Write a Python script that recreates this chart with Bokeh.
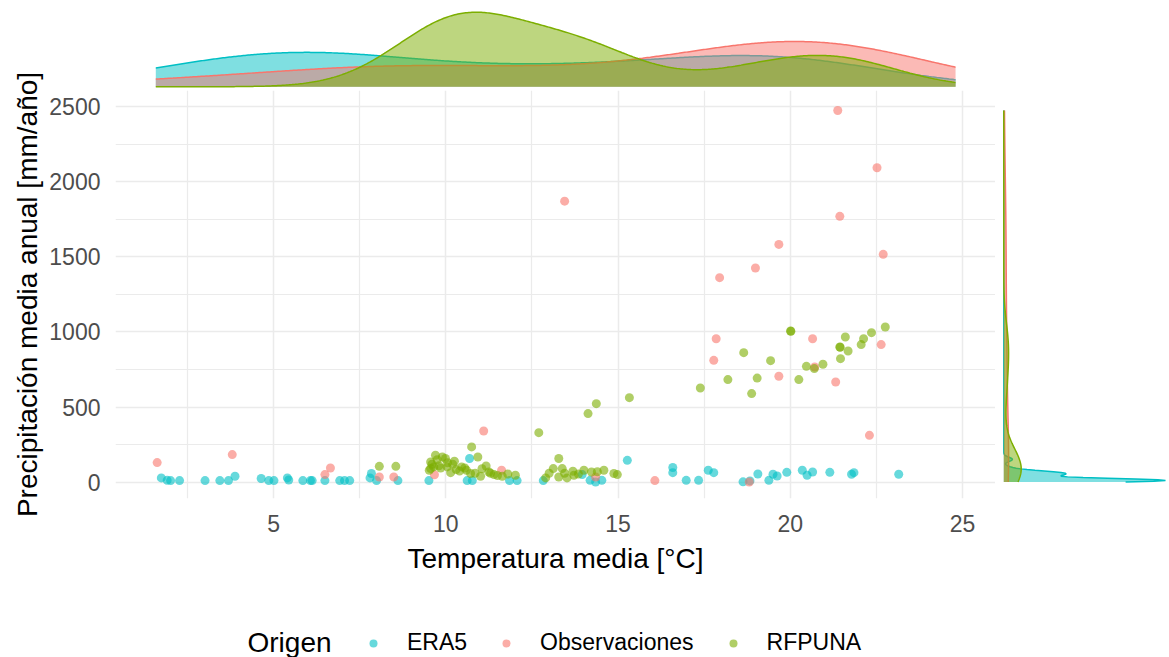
import numpy as np
from bokeh.plotting import figure
from bokeh.layouts import column, row
from bokeh.models import Range1d, FixedTicker, Legend, LegendItem, Label
from bokeh.embed import file_html
from bokeh.resources import INLINE

# Temperatura media anual [°C] y precipitación media anual [mm/año] por estación y origen
era5_temp = [1.74, 1.91, 2.01, 2.27, 3.01, 3.44, 3.69, 3.88, 4.64, 4.86, 5.01, 5.40, 5.44,
             5.85, 6.07, 6.12, 6.49, 6.92, 7.06, 7.21, 7.80, 7.84, 7.99, 8.61, 9.51, 10.69,
             10.62, 10.77, 11.85, 12.07, 12.83, 13.96, 14.19, 14.35, 14.53, 15.27, 16.59,
             16.59, 16.98, 17.34, 17.62, 17.78, 18.63, 18.83, 19.06, 19.38, 19.50, 19.62,
             19.90, 20.35, 20.49, 20.65, 21.15, 21.78, 21.85, 23.15]
era5_precip = [29, 13, 11, 11, 11, 11, 11, 40, 25, 11, 11, 29, 15,
               11, 11, 11, 11, 11, 11, 11, 29, 58, 11, 11, 11, 158,
               11, 11, 11, 11, 11, 51, 13, 2, 13, 146, 98,
               64, 13, 13, 80, 64, 3, 9, 55, 13, 53, 42,
               66, 80, 47, 68, 66, 53, 64, 53]

obs_temp = [1.62, 3.80, 6.49, 6.65, 8.07, 8.49, 9.67, 11.10, 11.62, 13.45, 14.35, 16.07,
            18.81, 17.95, 17.85, 17.78, 18.99, 19.67, 19.67, 20.71, 20.65, 21.32, 21.38,
            21.44, 22.30, 22.52, 22.64, 22.70]
obs_precip = [131, 184, 51, 95, 35, 35, 50, 341, 80, 1870, 35, 11,
              2, 1361, 955, 811, 1425, 1582, 705, 767, 955, 667, 2473,
              1769, 312, 2092, 916, 1516]

rfpuna_temp = [8.07, 8.55, 9.52, 9.56, 9.70, 9.65, 9.90, 9.99, 9.56, 10.04, 10.14, 10.46,
               10.75, 10.93, 10.72, 11.01, 11.17, 11.25, 11.40, 11.64, 12.02, 12.70, 12.90,
               13.12, 13.28, 13.38, 13.28, 13.52, 13.69, 13.72, 14.01, 14.23, 14.59, 14.88,
               14.98, 14.13, 14.37, 15.33, 17.39, 18.19, 18.88, 19.04, 18.65, 19.43, 20.01,
               20.02, 20.25, 20.47, 20.70, 20.95, 21.44, 21.45, 21.46, 21.60, 21.68, 22.06,
               22.13, 22.36, 22.76, 10.20, 10.30, 9.80, 10.60,
               9.60, 9.75, 9.85, 10.05, 10.25, 10.40, 10.55, 10.85, 11.05, 11.30, 11.50,
               11.80, 13.00, 13.45, 13.85, 14.40]
rfpuna_precip = [106, 106, 80, 135, 180, 102, 168, 158, 91, 102, 64, 102,
                 235, 168, 58, 40, 108, 68, 51, 40, 47, 330, 29,
                 91, 158, 91, 35, 29, 73, 47, 80, 68, 80, 58,
                 51, 457, 523, 563, 627, 683, 590, 693, 862, 809, 1006,
                 1004, 683, 771, 756, 785, 900, 898, 822, 966, 873, 916,
                 955, 995, 1033, 120, 85, 110, 80,
                 120, 150, 95, 130, 140, 75, 95, 60, 90, 60, 45,
                 55, 60, 60, 55, 70]

sources = ["ERA5", "Observaciones", "RFPUNA"]
temps = [era5_temp, obs_temp, rfpuna_temp]
precips = [era5_precip, obs_precip, rfpuna_precip]
colors = ["#00BFC4", "#F8766D", "#7CAE00"]

x_ticks = [5, 10, 15, 20, 25]
x_minor = [2.5, 7.5, 12.5, 17.5, 22.5]
y_ticks = [0, 500, 1000, 1500, 2000, 2500]
y_minor = [250, 750, 1250, 1750, 2250]

# extent of the temperature scale used for the marginal densities
temp_limits = (1.58, 24.8)

FONT = "Liberation Sans"
PAGE_W, PAGE_H = 1169, 657
TITLE_W = 45      # strip holding the rotated y-axis title
LEFT = 70         # room for the y tick labels
RIGHT_W = 174     # right marginal panel
TOP_H = 90
MAIN_H = 490
LEG_H = PAGE_H - TOP_H - MAIN_H


def bw_nrd0(v):
    v = np.asarray(v, dtype=float)
    sd = v.std(ddof=1)
    q75, q25 = np.percentile(v, [75, 25])
    lo = min(sd, (q75 - q25) / 1.34)
    if lo <= 0:
        lo = sd
    return 0.9 * lo * len(v) ** -0.2


def kde(v, grid):
    v = np.asarray(v, dtype=float)
    bw = bw_nrd0(v)
    z = (grid[:, None] - v[None, :]) / bw
    return np.exp(-0.5 * z ** 2).sum(axis=1) / (len(v) * bw * np.sqrt(2 * np.pi))


def bare(**kw):
    f = figure(x_axis_location=None, y_axis_location=None, toolbar_location=None,
               output_backend="svg", **kw)
    f.outline_line_color = None
    f.grid.visible = False
    return f


x_range = Range1d(0.41, 25.96)
y_range = Range1d(-108, 2606)

# ---- main scatter ----
p = figure(width=PAGE_W - TITLE_W - RIGHT_W, height=MAIN_H, x_range=x_range, y_range=y_range,
           toolbar_location=None, output_backend="svg",
           min_border_left=LEFT, min_border_right=0, min_border_top=0, min_border_bottom=82,
           x_axis_label="Temperatura media [°C]")
p.outline_line_color = None
p.background_fill_color = "white"

for name, tx, py, col in zip(sources, temps, precips, colors):
    p.scatter(tx, py, size=9, fill_color=col, fill_alpha=0.6, line_color=None)

p.xaxis.ticker = FixedTicker(ticks=x_ticks)
p.yaxis.ticker = FixedTicker(ticks=y_ticks)
p.xgrid.ticker = FixedTicker(ticks=x_ticks, minor_ticks=x_minor)
p.ygrid.ticker = FixedTicker(ticks=y_ticks, minor_ticks=y_minor)
for g in (p.xgrid, p.ygrid):
    g.grid_line_color = "#EBEBEB"
    g.grid_line_width = 1.5
    g.minor_grid_line_color = "#EBEBEB"
    g.minor_grid_line_width = 1.2

for ax in (p.xaxis, p.yaxis):
    ax.axis_line_color = None
    ax.major_tick_line_color = None
    ax.minor_tick_line_color = None
    ax.major_label_text_font = FONT
    ax.major_label_text_font_size = "23px"
    ax.major_label_text_color = "#4D4D4D"
    ax.axis_label_text_font = FONT
    ax.axis_label_text_font_size = "28px"
    ax.axis_label_text_font_style = "normal"
    ax.axis_label_text_color = "black"
p.xaxis.major_label_standoff = 10
p.xaxis.axis_label_standoff = 8
p.yaxis.major_label_standoff = 9

# ---- top marginal: temperature densities ----
xg = np.linspace(temp_limits[0], temp_limits[1], 512)
dens_x = [kde(t, xg) for t in temps]
mx = max(d.max() for d in dens_x)
top = bare(width=PAGE_W - TITLE_W, height=TOP_H, x_range=x_range,
           y_range=Range1d(-0.05 * mx, 1.05 * mx),
           min_border_left=LEFT, min_border_right=RIGHT_W, min_border_top=8, min_border_bottom=0)
for d, col in zip(dens_x, colors):
    top.varea(x=xg, y1=np.zeros_like(d), y2=d, fill_color=col, fill_alpha=0.5)
    top.line(xg, d, line_color=col, line_width=1.5)

# ---- right marginal: precipitation densities ----
all_p = np.concatenate([np.asarray(v, dtype=float) for v in precips])
yg = np.linspace(all_p.min(), all_p.max(), 512)
dens_y = [kde(v, yg) for v in precips]
my = max(d.max() for d in dens_y)
right = bare(width=RIGHT_W, height=MAIN_H, x_range=Range1d(-0.0513 * my, 1.0247 * my),
             y_range=y_range,
             min_border_left=0, min_border_right=0, min_border_top=0, min_border_bottom=82)
for d, col in zip(dens_y, colors):
    right.harea(y=yg, x1=np.zeros_like(d), x2=d, fill_color=col, fill_alpha=0.5)
    right.line(d, yg, line_color=col, line_width=1.5)

# ---- legend strip (keys reuse the series styling; their renderers stay hidden) ----
lg = bare(width=PAGE_W - TITLE_W, height=LEG_H, x_range=Range1d(0, 1), y_range=Range1d(0, 1),
          min_border_left=LEFT, min_border_right=RIGHT_W, min_border_top=0, min_border_bottom=0)
keys = []
for tx, py, col in zip(temps, precips, colors):
    keys.append(lg.scatter(tx, py, size=9, fill_color=col, fill_alpha=0.6, line_color=None,
                           visible=False))
legend = Legend(items=[LegendItem(label=s, renderers=[r]) for s, r in zip(sources, keys)],
                orientation="horizontal", location=(248, 1))
legend.label_text_font = FONT
legend.label_text_font_size = "23px"
legend.label_text_color = "black"
legend.glyph_width = 20
legend.glyph_height = 20
legend.label_standoff = 24
legend.spacing = 29
legend.padding = 0
legend.margin = 0
legend.border_line_color = None
legend.background_fill_alpha = 0
legend.inactive_fill_alpha = 0
lg.add_layout(legend, "center")
lg.add_layout(Label(x=132, y=15, x_units="screen", y_units="screen", text="Origen",
                    text_font=FONT, text_font_size="28px", text_color="black",
                    text_baseline="middle", text_align="left"))

# ---- y-axis title strip spanning the full height ----
ytitle = bare(width=TITLE_W, height=PAGE_H, x_range=Range1d(0, 1), y_range=Range1d(0, 1),
              min_border_left=0, min_border_right=0, min_border_top=0, min_border_bottom=0)
ytitle.add_layout(Label(x=27, y=PAGE_H - 294, x_units="screen", y_units="screen",
                        text="Precipitación media anual [mm/año]", angle=90, angle_units="deg",
                        text_font=FONT, text_font_size="28px", text_color="black",
                        text_baseline="middle", text_align="center"))

layout = row(ytitle, column(top, row(p, right, spacing=0), lg, spacing=0), spacing=0)
open("out.html", "w").write(file_html(layout, INLINE))
